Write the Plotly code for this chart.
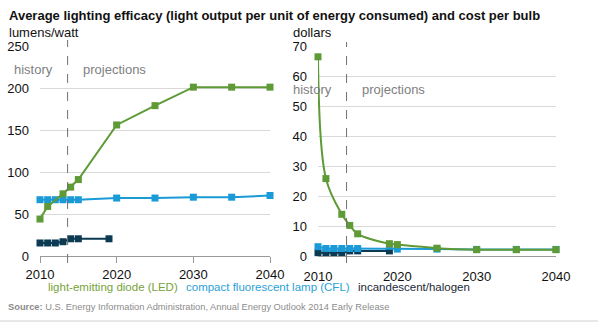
import plotly.graph_objects as go

# ---- data ----
led_eff_years = [2010, 2011, 2013, 2014, 2015, 2020, 2025, 2030, 2035, 2040]
led_eff = [44, 59, 74, 82, 91, 156, 179, 201, 201, 201]
cfl_eff_years = [2010, 2011, 2012, 2013, 2014, 2015, 2020, 2025, 2030, 2035, 2040]
cfl_eff = [67, 67, 67, 67, 67, 67, 69, 69, 70, 70, 72]
inc_eff_years = [2010, 2011, 2012, 2013, 2014, 2015, 2019]
inc_eff = [15.5, 15.5, 15.5, 17, 20.5, 20.5, 20.5]

led_cost_years = [2010, 2011, 2013, 2014, 2015, 2019, 2020, 2025, 2030, 2035, 2040]
led_cost = [66.4, 25.8, 13.9, 10.2, 7.4, 4.1, 3.8, 2.6, 2.1, 2.1, 2.1]
cfl_cost_years = [2010, 2011, 2012, 2013, 2014, 2015, 2020, 2025, 2030, 2035, 2040]
cfl_cost = [3.1, 2.5, 2.5, 2.5, 2.5, 2.5, 2.3, 2.3, 2.2, 2.2, 2.2]
inc_cost_years = [2010, 2011, 2012, 2013, 2014, 2015, 2019]
inc_cost = [1.1, 1.1, 1.1, 1.1, 1.7, 1.7, 1.7]

series_names = ["light-emitting diode (LED)", "compact fluorescent lamp (CFL)", "incandescent/halogen"]
x_ticks = [2010, 2020, 2030, 2040]
left_yticks = [0, 50, 100, 150, 200, 250]
right_yticks = [0, 10, 20, 30, 40, 50, 60, 70]
proj_start = 2013.6

title_text = "Average lighting efficacy (light output per unit of energy consumed) and cost per bulb"
source_text = "<b>Source:</b> U.S. Energy Information Administration, Annual Energy Outlook 2014 Early Release"

# ---- style ----
GREEN = "#5e9a35"
BLUE = "#1a9bd7"
NAVY = "#0b3a52"
LEG_COLORS = ["#76a33a", "#2a9fd8", "#1c2838"]
FONT = "Liberation Sans, Arial, sans-serif"
W, H = 598, 325

def px_x(p):
    return p / W

def px_y(p):
    return 1 - p / H

fig = go.Figure()

def add(xs, ys, color, xa, ya, shape="linear"):
    fig.add_trace(go.Scatter(
        x=xs, y=ys, mode="lines+markers", xaxis=xa, yaxis=ya,
        line=dict(color=color, width=2, shape=shape, smoothing=1.0),
        marker=dict(symbol="square", size=7, color=color),
        showlegend=False, hoverinfo="skip", cliponaxis=False))

add(cfl_eff_years, cfl_eff, BLUE, "x", "y")
add(inc_eff_years, inc_eff, NAVY, "x", "y")
add(led_eff_years, led_eff, GREEN, "x", "y")

add(inc_cost_years, inc_cost, NAVY, "x2", "y2")
add(cfl_cost_years, cfl_cost, BLUE, "x2", "y2")
add(led_cost_years, led_cost, GREEN, "x2", "y2", shape="spline")

ydom = [px_y(256), px_y(46)]
common_x = dict(range=[2010, 2040], tickvals=x_ticks, showgrid=False, zeroline=False,
                showline=True, linecolor="#9a9a9a", linewidth=1, automargin=False,
                tickfont=dict(family=FONT, size=13, color="#111"), fixedrange=True)
common_y = dict(showgrid=True, gridcolor="#d9d9d9", gridwidth=1, zeroline=False,
                showline=False, tickfont=dict(family=FONT, size=13, color="#111"),
                ticklabelstandoff=10, automargin=False, fixedrange=True)

fig.update_layout(
    template="none",
    width=W, height=H, margin=dict(l=0, r=0, t=0, b=0, pad=0),
    paper_bgcolor="white", plot_bgcolor="white",
    font=dict(family=FONT, size=13, color="#111"),
    xaxis=dict(domain=[px_x(40), px_x(270)], ticks="outside", ticklen=6, tickcolor="#9a9a9a",
               anchor="y", **common_x),
    yaxis=dict(domain=ydom, range=[0, 250], tickvals=left_yticks, anchor="x", ticks="", **common_y),
    xaxis2=dict(domain=[px_x(318), px_x(556)], ticks="", ticklabelstandoff=8,
                anchor="y2", **common_x),
    yaxis2=dict(domain=ydom, range=[0, 70], tickvals=right_yticks, anchor="x2", ticks="", **common_y),
)

# projection dividers
for xr, yr, top in [("x", "y domain", 1 + 6 / 210), ("x2", "y2 domain", 1 + 4 / 210)]:
    fig.add_shape(type="line", xref=xr, yref=yr, x0=proj_start, x1=proj_start,
                  y0=-7 / 210, y1=top, line=dict(color="#707070", width=1, dash="dash"))

gray = "#808080"
anns = [
    dict(x=proj_start, y=222, xref="x", yref="y", text="history", xanchor="right", xshift=-13),
    dict(x=proj_start, y=222, xref="x", yref="y", text="projections", xanchor="left", xshift=13),
    dict(x=proj_start, y=55.4, xref="x2", yref="y2", text="history", xanchor="right", xshift=-13),
    dict(x=proj_start, y=55.4, xref="x2", yref="y2", text="projections", xanchor="left", xshift=13),
]
for a in anns:
    fig.add_annotation(**a, showarrow=False, yanchor="middle",
                       font=dict(family=FONT, size=13, color=gray))

fig.add_annotation(x=px_x(7), y=px_y(16), xref="paper", yref="paper", text="<b>" + title_text + "</b>",
                   showarrow=False, xanchor="left", yanchor="middle",
                   font=dict(family=FONT, size=13, color="#111"))
fig.add_annotation(x=px_x(7), y=px_y(32), xref="paper", yref="paper", text="lumens/watt",
                   showarrow=False, xanchor="left", yanchor="middle",
                   font=dict(family=FONT, size=13, color="#111"))
fig.add_annotation(x=px_x(291), y=px_y(32), xref="paper", yref="paper", text="dollars",
                   showarrow=False, xanchor="left", yanchor="middle",
                   font=dict(family=FONT, size=13, color="#111"))

for name, col, xl in zip(series_names, LEG_COLORS, [46, 184, 356]):
    fig.add_annotation(x=px_x(xl), y=px_y(287), xref="paper", yref="paper", text=name,
                       showarrow=False, xanchor="left", yanchor="middle",
                       font=dict(family=FONT, size=11.5, color=col))

fig.add_annotation(x=px_x(6), y=px_y(307), xref="paper", yref="paper", text=source_text,
                   showarrow=False, xanchor="left", yanchor="middle",
                   font=dict(family=FONT, size=9.3, color="#8c8c8c"))

fig.add_shape(type="line", xref="paper", yref="paper", x0=0, x1=1, y0=px_y(321), y1=px_y(321),
              line=dict(color="#d0d0d0", width=1))

fig.write_html("out.html")
